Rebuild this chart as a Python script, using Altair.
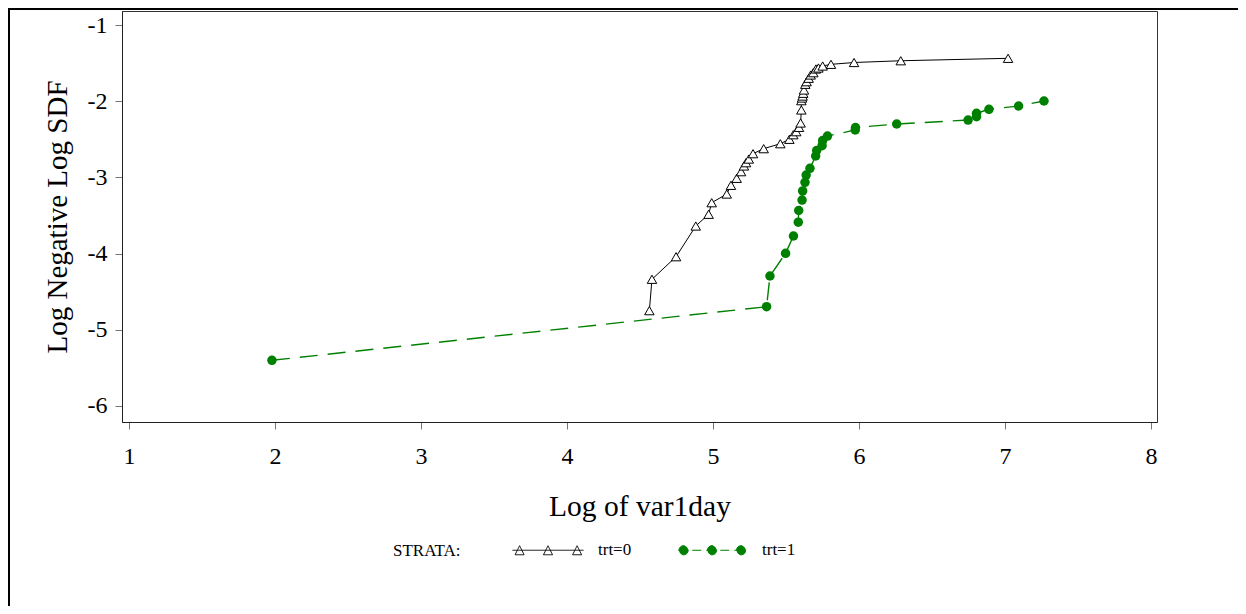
import math
import altair as alt
import pandas as pd

# ---- data ----
x_trt0 = [4.564, 4.582, 4.747, 4.882, 4.970, 4.991, 5.094, 5.123, 5.162, 5.192,
          5.212, 5.226, 5.245, 5.274, 5.347, 5.461, 5.523, 5.550, 5.570, 5.589,
          5.600, 5.605, 5.605, 5.610, 5.614, 5.618, 5.623, 5.632, 5.641, 5.655,
          5.669, 5.687, 5.705, 5.722, 5.751, 5.808, 5.966, 6.286, 7.021]
y_trt0 = [-4.749, -4.337, -4.041, -3.638, -3.484, -3.332, -3.218, -3.104, -3.012, -2.925,
          -2.850, -2.807, -2.759, -2.689, -2.623, -2.558, -2.500, -2.440, -2.400, -2.343,
          -2.286, -2.115, -1.993, -1.958, -1.932, -1.896, -1.853, -1.778, -1.744, -1.699,
          -1.656, -1.626, -1.577, -1.564, -1.538, -1.516, -1.492, -1.469, -1.437]

x_trt1 = [1.979, 5.367, 5.390, 5.497, 5.551, 5.584, 5.587, 5.610, 5.614, 5.630,
          5.638, 5.664, 5.703, 5.710, 5.747, 5.751, 5.784, 5.974, 5.976, 6.258,
          6.747, 6.805, 6.805, 6.890, 7.093, 7.267]
y_trt1 = [-5.400, -4.697, -4.294, -3.996, -3.769, -3.588, -3.434, -3.297, -3.178, -3.064,
          -2.969, -2.881, -2.719, -2.647, -2.584, -2.516, -2.457, -2.378, -2.345, -2.299,
          -2.247, -2.203, -2.159, -2.106, -2.063, -1.997]

x_ticks = [1, 2, 3, 4, 5, 6, 7, 8]
y_ticks = [-1, -2, -3, -4, -5, -6]
strata = ["trt=0", "trt=1"]

rows = []
for i, (a, b) in enumerate(zip(x_trt0, y_trt0)):
    rows.append({"x": a, "y": b, "trt": 0, "i": i})
for i, (a, b) in enumerate(zip(x_trt1, y_trt1)):
    rows.append({"x": a, "y": b, "trt": 1, "i": i})
df = pd.DataFrame(rows)

FONT = "Liberation Serif"
GREEN = "#008000"

xs = alt.Scale(domain=[0.952, 8.041], nice=False, zero=False)
ys = alt.Scale(domain=[-6.21, -0.816], nice=False, zero=False)

X = alt.X("x:Q", scale=xs, axis=alt.Axis(
    values=x_ticks, title="Log of var1day", labelExpr="'' + datum.value",
    labelFontSize=24, labelPadding=15, titlePadding=24, titleFontSize=29.5,
    tickSize=7, grid=False))
Y = alt.Y("y:Q", scale=ys, axis=alt.Axis(
    values=y_ticks, title="Log Negative Log SDF", labelExpr="'' + datum.value",
    labelFontSize=24, labelPadding=8, titlePadding=15, titleFontSize=29,
    tickSize=7, grid=False))

base = alt.Chart(df).encode(x=X, y=Y, order=alt.Order("i:Q"))

line0 = base.transform_filter("datum.trt == 0").mark_line(color="black", strokeWidth=1)
pts0 = base.transform_filter("datum.trt == 0").mark_point(
    shape="triangle-up", filled=True, fill="white", stroke="black",
    strokeWidth=1, size=90, opacity=1)
line1 = base.transform_filter("datum.trt == 1").mark_line(
    color=GREEN, strokeWidth=1.4, strokeDash=[18, 10])
pts1 = base.transform_filter("datum.trt == 1").mark_point(
    shape="circle", filled=True, color=GREEN, size=90, opacity=1)


# ---- legend symbols (style only) ----
def tri(cx, r=0.127):
    return f"M{cx - r:.3f},{r:.3f}L{cx:.3f},{-r:.3f}L{cx + r:.3f},{r:.3f}Z"


def circ(cx, r=0.13, n=16):
    pts = [(cx + r * math.cos(2 * math.pi * k / n), r * math.sin(2 * math.pi * k / n)) for k in range(n)]
    return "M" + "L".join(f"{a:.3f},{b:.3f}" for a, b in pts) + "Z"


# zero-length bits at top and bottom keep the symbol box full height for layout
span = "M0,-1L0,-1M0,1L0,1"
path0 = span + "M-1,0L1,0" + tri(-0.8) + tri(0.0) + tri(0.82)
path1 = span + "M-0.95,0L0.95,0" + circ(-0.8) + circ(0.0) + circ(0.82)

leg = alt.Legend(
    orient="none", legendX=271, legendY=503, direction="horizontal",
    title="STRATA:", titleOrient="left", titleFont=FONT, titleFontSize=17,
    titleFontWeight="normal", titleColor="black", titlePadding=51,
    titleBaseline="middle", titleAnchor="middle",
    labelFont=FONT, labelFontSize=17, labelColor="black", labelOffset=14,
    columnPadding=44, symbolSize=5041, symbolStrokeWidth=1, symbolOpacity=1,
    padding=0)

legend_layer = alt.Chart(alt.Data(values=[])).mark_point(
    filled=True, size=5041, opacity=1, strokeWidth=1
).encode(
    shape=alt.Shape("strata:N", scale=alt.Scale(domain=strata, range=[path0, path1]), legend=leg),
    fill=alt.Fill("strata:N", scale=alt.Scale(domain=strata, range=["white", GREEN]), legend=leg),
    stroke=alt.Stroke("strata:N", scale=alt.Scale(domain=strata, range=["black", GREEN]), legend=leg),
    strokeDash=alt.StrokeDash("strata:N", scale=alt.Scale(domain=strata, range=[[1, 0], [9, 5]]), legend=leg),
)

# outer frame of the figure (decoration)
frame_top = alt.Chart(alt.Data(values=[{}])).mark_rule(color="black", strokeWidth=2).encode(
    x=alt.value(-114), x2=alt.value(1130), y=alt.value(-2))
frame_left = alt.Chart(alt.Data(values=[{}])).mark_rule(color="black", strokeWidth=2).encode(
    x=alt.value(-113), y=alt.value(-3), y2=alt.value(610))

chart = alt.layer(legend_layer, line1, line0, pts1, pts0, frame_top, frame_left).properties(
    width=1035, height=411,
    padding={"left": 114, "top": 3, "right": 81, "bottom": 184},
    autosize="none",
).configure(font=FONT).configure_axis(
    labelFont=FONT, titleFont=FONT, labelColor="black", titleColor="black",
    titleFontWeight="normal", domainColor="#222", tickColor="#777", domainWidth=1,
).configure_view(stroke="#333", strokeWidth=1)

chart.save("out.html", embed_options={"renderer": "svg", "actions": False})
